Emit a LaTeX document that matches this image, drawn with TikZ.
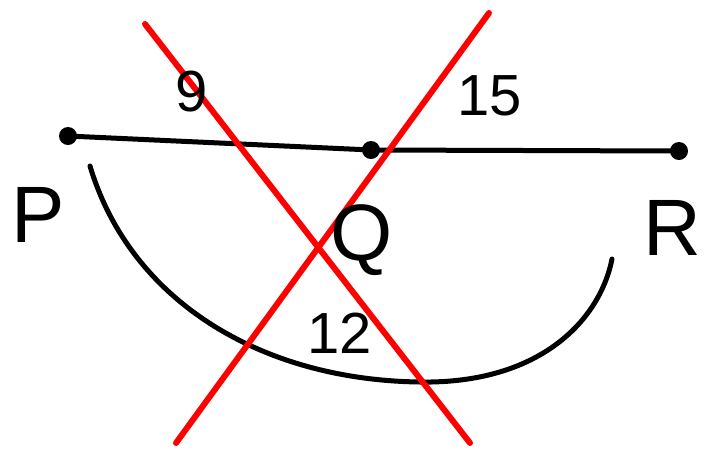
\documentclass[tikz,border=0pt]{standalone}
\usepackage{fontspec}
\setmainfont{Liberation Sans}
\begin{document}
\begin{tikzpicture}[x=1pt,y=-1pt,
  dot/.style={circle,fill=black,inner sep=0pt,minimum size=18pt},
  ink/.style={line width=5pt,line cap=round,line join=round},
  redink/.style={line width=6pt,red,line cap=round},
  lbl/.style={font=\fontsize{80}{80}\selectfont,inner sep=0pt},
  num/.style={font=\fontsize{58}{58}\selectfont,inner sep=0pt}]
\useasboundingbox (0,0) rectangle (705,451);
\fill[white] (0,0) rectangle (705,451);
\node[dot] (P) at (68,136) {};
\node[dot] (Q) at (371,150) {};
\node[dot] (R) at (679,151) {};
\draw[ink] (P.center) -- (Q.center) -- (R.center);
\coordinate (a1) at (90,166);
\coordinate (a2) at (420,382);
\coordinate (a3) at (612,259);
\draw[ink] (a1) .. controls (130,300) and (260,380) .. (a2) .. controls (540,384) and (600,320) .. (a3);
\coordinate (r1) at (145,24);
\coordinate (r2) at (470,443);
\coordinate (r3) at (489,13);
\coordinate (r4) at (176,443);
\draw[redink] (r1) -- (r2);
\draw[redink] (r3) -- (r4);
\node[lbl] (lP) at (38,215) {P};
\node[lbl] (lQ) at (362,240) {Q};
\node[lbl] (lR) at (672,228) {R};
\node[num] (n9) at (192,92) {9};
\node[num] (n15) at (490,96) {15};
\node[num] (n12) at (340,333) {12};
\end{tikzpicture}
\end{document}
